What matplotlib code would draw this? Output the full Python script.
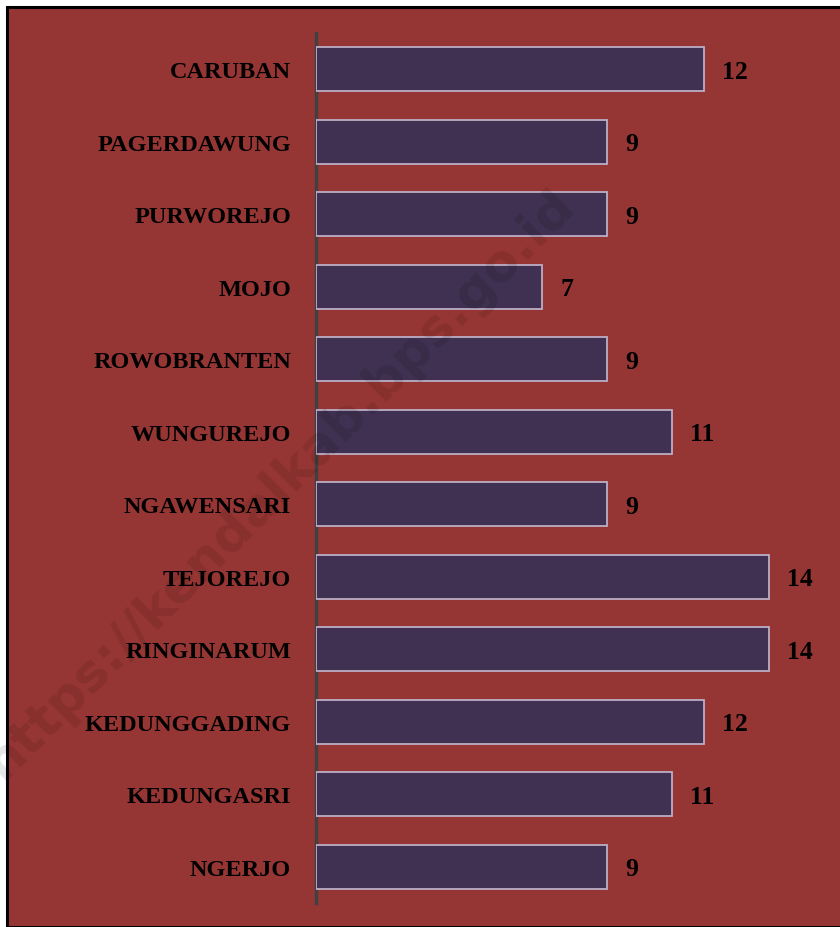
import matplotlib.pyplot as plt
from matplotlib.patches import Rectangle

desa = ['CARUBAN', 'PAGERDAWUNG', 'PURWOREJO', 'MOJO', 'ROWOBRANTEN', 'WUNGUREJO',
        'NGAWENSARI', 'TEJOREJO', 'RINGINARUM', 'KEDUNGGADING', 'KEDUNGASRI', 'NGERJO']
jumlah = [12, 9, 9, 7, 9, 11, 9, 14, 14, 12, 11, 9]

bg = '#963634'
fig = plt.figure(figsize=(8.4, 9.28), dpi=100)
fig.patch.set_facecolor('white')

# latar dan bingkai hitam
fig.patches.append(Rectangle((6.5 / 840, 0), 1.0, 1 - 7.5 / 928, transform=fig.transFigure,
                             facecolor=bg, edgecolor='black', linewidth=2.2, zorder=-5))

ax = fig.add_axes([316 / 840, 24 / 928, 1 - 316 / 840, 870 / 928])
ax.set_facecolor('none')

y = list(range(len(desa)))
ax.barh(y, jumlah, height=0.61, color='#403152', edgecolor='#bcaec6', linewidth=1.3, zorder=3)
ax.set_ylim(len(desa) - 0.5, -0.5)
ax.set_xlim(0, 16.2)

ax.set_yticks(y)
ax.set_yticklabels(desa, fontfamily='Liberation Serif', fontweight='bold', fontsize=17.5)
ax.tick_params(axis='y', length=0, pad=18)
ax.set_xticks([])

for s in ['top', 'right', 'bottom']:
    ax.spines[s].set_visible(False)
ax.spines['left'].set_color('#404040')
ax.spines['left'].set_linewidth(2.5)

for yi, v in zip(y, jumlah):
    ax.text(v + 0.55, yi + 0.03, str(v), va='center', ha='left', fontfamily='Liberation Serif',
            fontweight='bold', fontsize=18.5, color='black', zorder=4)

# watermark
fig.text(280 / 840, 1 - 484 / 928, 'https://kendalkab.bps.go.id', rotation=45,
         ha='center', va='center', fontsize=37.5, fontweight='bold', color='black',
         alpha=0.1, family='DejaVu Sans', zorder=5)

fig.savefig('out.png', dpi=100, facecolor=fig.get_facecolor())
